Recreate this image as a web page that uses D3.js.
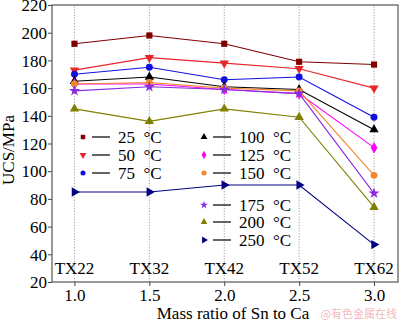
<!DOCTYPE html>
<html>
<head>
<meta charset="utf-8">
<script src="https://cdn.jsdelivr.net/npm/d3@7"></script>
<style>
  body { margin: 0; background: #fff; }
</style>
</head>
<body>
<div class="chart"></div>
<script>
var w = 400;
var h = 322;
var serif = "'Liberation Serif'";

// data
var ratios = [1.0, 1.5, 2.0, 2.5, 3.0];
var alloys = ["TX22", "TX32", "TX42", "TX52", "TX62"];
var temps = ["25", "50", "75", "100", "125", "150", "175", "200", "250"];
var uts25 = [192, 198, 192, 179, 177];
var uts50 = [173, 182, 178, 174, 160];
var uts75 = [170, 175, 166, 168, 139];
var uts100 = [165, 168, 161, 159, 130];
var uts125 = [163, 163, 159, 156, 117];
var uts150 = [163, 164, 160, 158, 97];
var uts175 = [158, 161, 159, 156, 84];
var uts200 = [145, 136, 145, 139, 74];
var uts250 = [85, 85, 90, 90, 47];
var yTicks = [20, 40, 60, 80, 100, 120, 140, 160, 180, 200, 220];
var xTicks = [1.0, 1.5, 2.0, 2.5, 3.0];

var seriesVals = [uts25, uts50, uts75, uts100, uts125, uts150, uts175, uts200, uts250];
var colors = ["#800000", "#e8262a", "#1010e0", "#000000", "#ff00ff", "#f0892e", "#8a2be2", "#808000", "#000080"];
var symbols = [d3.symbolSquare, "down", d3.symbolCircle, d3.symbolTriangle, d3.symbolDiamond, d3.symbolCircle, d3.symbolStar, d3.symbolTriangle, "right"];

var margin = {left: 52, right: 2, top: 5, bottom: 40};

var x = d3.scaleLinear().domain([0.85, 3.16]).range([margin.left, w - margin.right]);
var y = d3.scaleLinear().domain([20, 220]).range([h - margin.bottom, margin.top]);

var svg = d3.select(".chart").append("svg")
    .attr("width", w)
    .attr("height", h)
    .style("font-family", serif);

// vertical dotted guides
svg.selectAll(".guide").data(ratios).enter().append("line")
    .attr("x1", d => x(d)).attr("x2", d => x(d))
    .attr("y1", y(20)).attr("y2", y(220))
    .attr("stroke", "#888").attr("stroke-width", 0.8)
    .attr("stroke-dasharray", "1.2,1.6");

// axes
var xAxis = svg.append("g")
    .attr("transform", "translate(0," + y(20) + ")")
    .call(d3.axisBottom(x).tickValues(xTicks).tickFormat(d3.format(".1f")).tickSize(4).tickSizeOuter(0));
var yAxis = svg.append("g")
    .attr("transform", "translate(" + margin.left + ",0)")
    .call(d3.axisLeft(y).tickValues(yTicks).tickSize(4).tickSizeOuter(0));

[xAxis, yAxis].forEach(g => {
    g.attr("font-family", null);
    g.select(".domain").remove();
    g.selectAll("text").style("font-family", serif).attr("font-size", 17).attr("fill", "#000");
    g.selectAll("line").attr("stroke", "#444");
});
xAxis.selectAll("text").attr("dy", null).attr("y", 19);
yAxis.selectAll("text").attr("dy", "0.34em").attr("x", -5);

// frame
svg.append("rect")
    .attr("x", margin.left).attr("y", margin.top)
    .attr("width", w - margin.right - margin.left)
    .attr("height", y(20) - margin.top)
    .attr("fill", "none").attr("stroke", "#555").attr("stroke-width", 1.2);

// marker path generator
function marker(sym, size) {
    if (sym === "down" || sym === "right") {
        return d3.symbol(d3.symbolTriangle, size)();
    }
    return d3.symbol(sym, size)();
}
function rot(sym) {
    if (sym === "down") return " rotate(180)";
    if (sym === "right") return " rotate(90)";
    return "";
}

var line = d3.line().x((d, i) => x(ratios[i])).y(d => y(d));

seriesVals.forEach((vals, k) => {
    svg.append("path")
        .datum(vals)
        .attr("d", line)
        .attr("fill", "none")
        .attr("stroke", colors[k])
        .attr("stroke-width", 1.1);
    svg.selectAll(".m" + k).data(vals).enter().append("path")
        .attr("d", marker(symbols[k], 38))
        .attr("transform", (d, i) => "translate(" + x(ratios[i]) + "," + y(d) + ")" + rot(symbols[k]))
        .attr("fill", colors[k]);
});

// alloy names
svg.selectAll(".alloy").data(alloys).enter().append("text")
    .attr("x", (d, i) => x(ratios[i]))
    .attr("y", 274)
    .attr("text-anchor", "middle")
    .style("font-family", serif)
    .attr("font-size", 17)
    .text(d => d);

// legend
var legPos = [
    [83, 137], [83, 155], [83, 173],
    [204, 137], [204, 155], [204, 173],
    [204, 205], [204, 222], [204, 240]
];
temps.forEach((t, k) => {
    var p = legPos[k];
    svg.append("path")
        .attr("d", marker(symbols[k], 20))
        .attr("transform", "translate(" + p[0] + "," + p[1] + ")" + rot(symbols[k]))
        .attr("fill", colors[k]);
    svg.append("line")
        .attr("x1", p[0] + 9).attr("x2", p[0] + 27)
        .attr("y1", p[1]).attr("y2", p[1])
        .attr("stroke", "#111").attr("stroke-width", 1.3);
    svg.append("text")
        .attr("x", p[0] + 35)
        .attr("y", p[1] + 6)
        .style("font-family", serif)
        .attr("font-size", 17)
        .text(t + "\u00A0\u00A0\u00B0C");
});

// axis titles
svg.append("text")
    .attr("x", 233).attr("y", 319)
    .attr("text-anchor", "middle")
    .style("font-family", serif)
    .attr("font-size", 17)
    .text("Mass ratio of Sn to Ca");
svg.append("text")
    .attr("transform", "translate(14,150) rotate(-90)")
    .attr("text-anchor", "middle")
    .style("font-family", serif)
    .attr("font-size", 17)
    .text("UCS/MPa");

// watermark
svg.append("text")
    .attr("x", 397).attr("y", 318)
    .attr("text-anchor", "end")
    .style("font-family", "'Noto Sans CJK SC'")
    .attr("font-size", 11)
    .attr("fill", "#f4b8bc")
    .text("@有色金属在线");
</script>
</body>
</html>
